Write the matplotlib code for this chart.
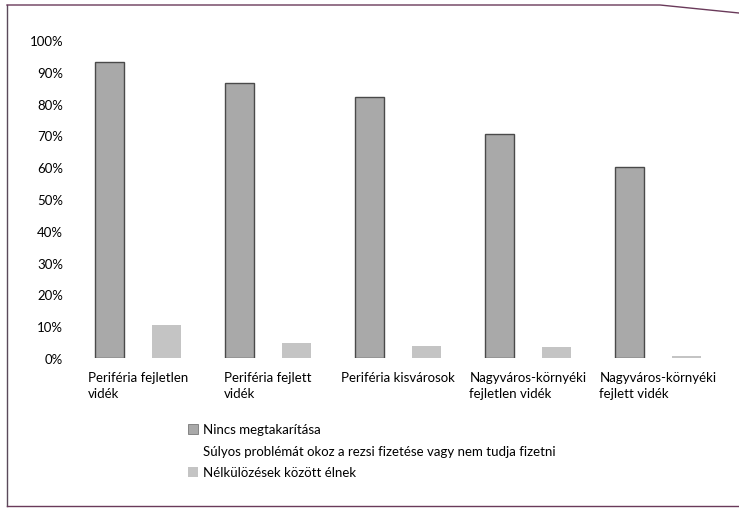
import numpy as np
import matplotlib.pyplot as plt
from matplotlib.lines import Line2D

plt.rcParams['font.family'] = ['Lato', 'DejaVu Sans']

# data
categories = ['Periféria fejletlen\nvidék', 'Periféria fejlett\nvidék', 'Periféria kisvárosok',
              'Nagyváros-környéki\nfejletlen vidék', 'Nagyváros-környéki\nfejlett vidék']
nincs_megtakaritas = [93, 86.5, 82, 70.5, 60]
rezsi_problema = [41.5, 20.5, 19.5, 22, 15.5]   # printed white, only specks visible
nelkulozes = [10.5, 4.7, 3.8, 3.5, 0.6]
series_names = ['Nincs megtakarítása',
                'Súlyos problémát okoz a rezsi fizetése vagy nem tudja fizetni',
                'Nélkülözések között élnek']

fig = plt.figure(figsize=(7.39, 5.1), dpi=100)
ax = fig.add_axes([73/739, 1 - 359/510, 650/739, 318/510])

x = np.arange(len(categories))
w = 0.222
ax.bar(x, rezsi_problema, w, color='white', edgecolor='none', label=series_names[1], zorder=1)
ax.bar(x + w, nelkulozes, w, color='#c4c4c4', edgecolor='none', label=series_names[2], zorder=1)
ax.bar(x - w, nincs_megtakaritas, w, color='#a9a9a9', edgecolor='#4a4a4a', linewidth=1.0,
       label=series_names[0], zorder=3)

ax.set_xlim(-0.5, 4.5)
ax.set_ylim(0, 100)
ax.set_yticks(range(0, 101, 10))
ax.set_yticklabels([f'{v}%' for v in range(0, 101, 10)], fontsize=9.5)
ax.set_xticks(x)
ax.set_xticklabels(categories, fontsize=9.5, multialignment='left', linespacing=1.5)
ax.tick_params(axis='both', length=0, colors='#000000')
ax.tick_params(axis='y', pad=7)
ax.tick_params(axis='x', pad=9)
for s in ax.spines.values():
    s.set_visible(False)

handles = [plt.Rectangle((0, 0), 1, 1, facecolor='#a9a9a9', edgecolor='#777777', linewidth=0.6),
           plt.Rectangle((0, 0), 1, 1, facecolor='white', edgecolor='none'),
           plt.Rectangle((0, 0), 1, 1, facecolor='#c4c4c4', edgecolor='none')]
fig.legend(handles, series_names, loc='upper left', bbox_to_anchor=(183/739, 1 - 419/510),
           frameon=False, fontsize=9.5, handlelength=0.75, handleheight=0.75,
           handletextpad=0.4, labelspacing=0.72, borderaxespad=0)

# scanned border of the chart box
fig.add_artist(Line2D([7/739, 7/739], [1 - 6/510, 1 - 507/510], transform=fig.transFigure, color='#5a4a5a', lw=1))
fig.add_artist(Line2D([7/739, 1.0], [1 - 507/510, 1 - 507/510], transform=fig.transFigure, color='#6a3a5a', lw=1))
fig.add_artist(Line2D([7/739, 660/739, 739/739], [1 - 6/510, 1 - 6/510, 1 - 14/510], transform=fig.transFigure, color='#6a3a5a', lw=1))

fig.savefig('out.png', dpi=100)
